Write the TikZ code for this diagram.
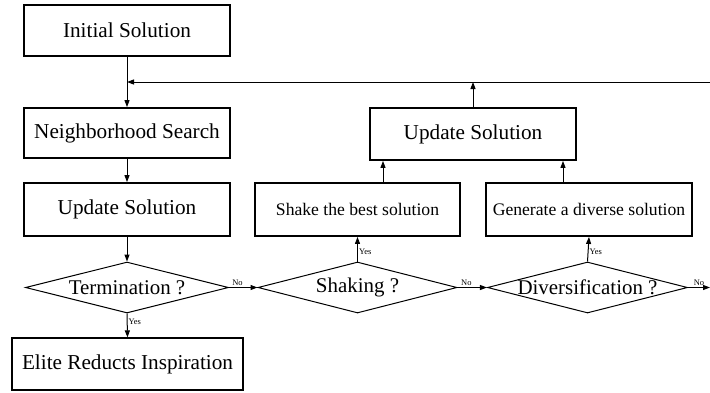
\documentclass[tikz,border=0pt]{standalone}
\usepackage{fontspec}
\setmainfont{Liberation Serif}
\usetikzlibrary{shapes.geometric,arrows.meta}
\begin{document}
\begin{tikzpicture}[x=1bp,y=-1bp,
  box/.style={draw,line width=1.8bp,rectangle,inner sep=0pt,font=\fontsize{21.3}{24}\selectfont},
  sbox/.style={draw,line width=1.8bp,rectangle,inner sep=0pt,font=\fontsize{17.7}{20}\selectfont},
  thinbox/.style={draw,line width=1.2bp,rectangle,inner sep=0pt,font=\fontsize{21.3}{24}\selectfont},
  dia/.style={draw,line width=1bp,diamond,aspect=4,inner sep=0pt,font=\fontsize{21}{24}\selectfont},
  arr/.style={line width=1bp,-{Triangle[length=7bp,width=5bp]}},
  lab/.style={font=\fontsize{8.5}{10}\selectfont,inner sep=1bp}]
\useasboundingbox[fill=white] (0,0) rectangle (710,392);
\node[box,minimum width=206bp,minimum height=51bp] (init) at (127,30.5) {Initial Solution};
\node[box,minimum width=206bp,minimum height=50bp] (nbh) at (127,133) {Neighborhood Search};
\node[box,minimum width=206bp,minimum height=53bp] (upd1) at (127,209.5) {Update Solution};
\node[dia,minimum width=203bp,minimum height=51bp] (term) at (127,287.5) {Termination ?};
\node[thinbox,minimum width=231bp,minimum height=52bp] (elite) at (127.5,364) {Elite Reducts Inspiration};
\node[dia,minimum width=199bp,minimum height=51bp] (shake) at (357.5,287.5) {Shaking ?};
\node[sbox,minimum width=205bp,minimum height=53bp] (shakebox) at (357.5,209.5) {Shake the best solution};
\node[box,minimum width=206bp,minimum height=52bp] (upd2) at (473,134) {Update Solution};
\node[sbox,minimum width=206bp,minimum height=53bp] (genbox) at (589,209.5) {Generate a diverse solution};
\node[dia,minimum width=199bp,minimum height=51bp] (div) at (587.5,287.5) {Diversification ?};
\coordinate (fbR) at (710,82);
\coordinate (fbL) at (127,82);
\coordinate (upR) at (473,82);
\coordinate (divR) at (710,287.5);
\draw[arr] (init.south) -- (nbh.north);
\draw[arr] (fbR) -- (fbL);
\draw[arr] (nbh.south) -- (upd1.north);
\draw[arr] (upd1.south) -- (term.north);
\draw[arr] (term.south) -- node[lab,right,pos=0.35]{Yes} (elite.north);
\draw[arr] (term.east) -- node[lab,above,pos=0.3]{No} (shake.west);
\draw[arr] (shake.north) -- node[lab,right,pos=0.4]{Yes} (shakebox.south);
\draw[arr] (shake.east) -- node[lab,above,pos=0.3]{No} (div.west);
\draw[arr] (div.north) -- node[lab,right,pos=0.4]{Yes} (genbox.south);
\draw[arr] (div.east) -- node[lab,above,pos=0.5]{No} (divR);
\draw[arr] (shakebox.north -| 383,0) -- (upd2.south -| 383,0);
\draw[arr] (genbox.north -| 563,0) -- (upd2.south -| 563,0);
\draw[arr] (upd2.north) -- (upR);
\end{tikzpicture}
\end{document}
